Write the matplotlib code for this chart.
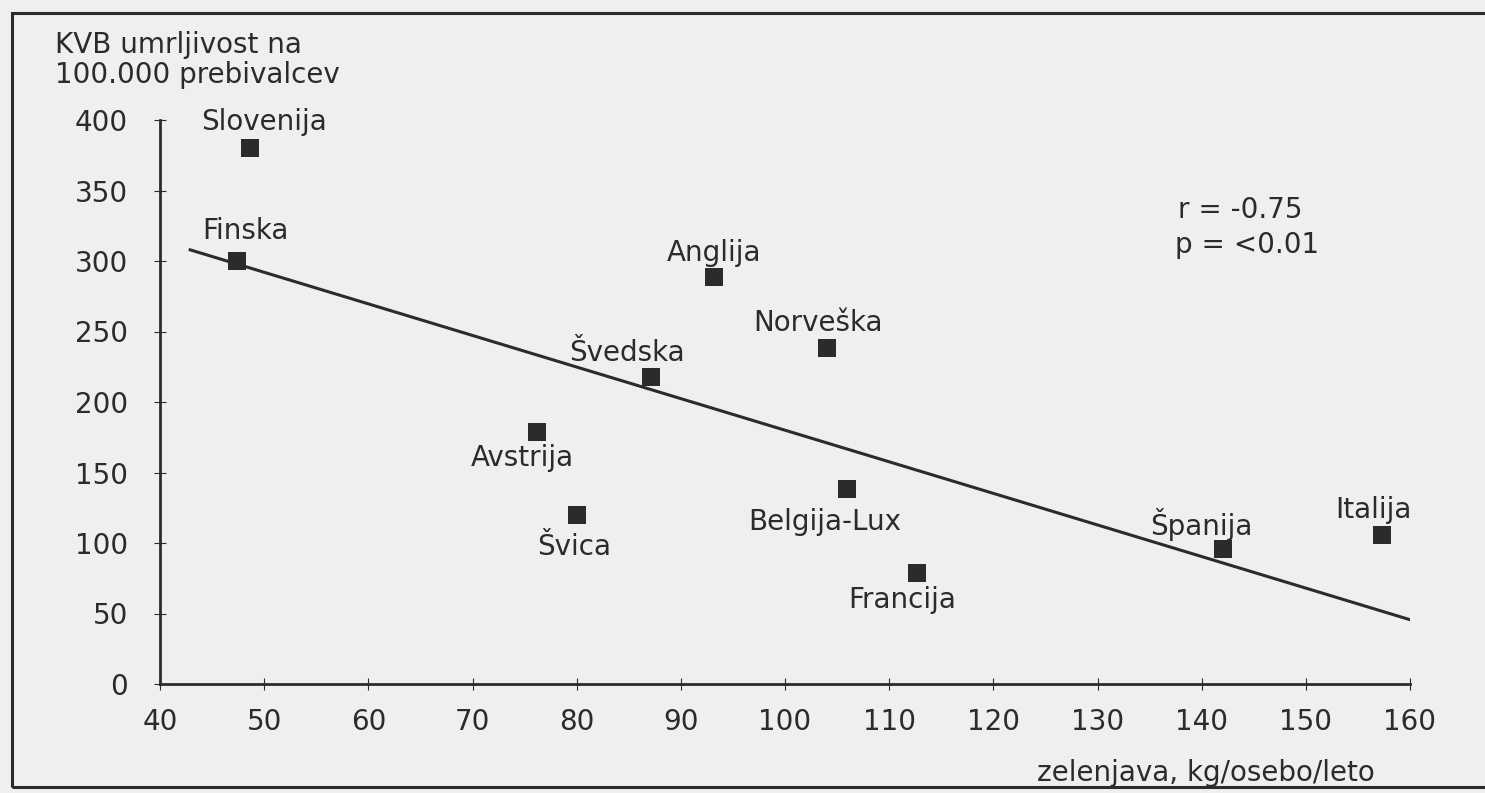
import numpy as np
import matplotlib
matplotlib.use("Agg")
import matplotlib.pyplot as plt
from matplotlib.patches import Rectangle

plt.rcParams['font.family'] = ['DejaVu Sans']

# vegetable consumption vs. cardiovascular mortality per country
countries = ['Slovenija', 'Finska', 'Anglija', 'Norveška', 'Švedska', 'Avstrija',
             'Švica', 'Belgija-Lux', 'Francija', 'Španija', 'Italija']
zelenjava = [48.6, 47.4, 93.2, 104.0, 87.1, 76.2, 80.0, 106.0, 112.7, 142.0, 157.3]
umrljivost = [380, 300, 289, 238, 218, 179, 120, 138, 79, 96, 106]

# regression line as printed (intercept, slope) and its x extent
fit_coef = (404.0, -2.24)
fit_x = [42.9, 160.0]

xticks = list(range(40, 161, 10))
yticks = list(range(0, 401, 50))

# label placement around each marker, in pixels
label_off = [(14, 26), (8, 30), (0, 24), (-9, 25), (-24, 24), (-15, -26),
             (-3, -32), (-23, -33), (-15, -27), (-21, 24), (-8, 25)]

ink = '#2b2b2b'
paper = '#efefed'
fs = 20

fig = plt.figure(figsize=(14.85, 7.93), dpi=100, facecolor=paper)
ax = fig.add_axes([160 / 1485, 1 - 684 / 793, 1250 / 1485, 564 / 793])
ax.set_facecolor(paper)

# outer frame around the whole chart
fig.patches.append(Rectangle((12 / 1485, 1 - 787 / 793), 1.0, 774 / 793,
                             transform=fig.transFigure, fill=False,
                             edgecolor=ink, linewidth=2.2))

ax.set_xlim(40, 160)
ax.set_ylim(0, 400)
for s in ['top', 'right']:
    ax.spines[s].set_visible(False)
for s in ['left', 'bottom']:
    ax.spines[s].set_linewidth(2.0)
    ax.spines[s].set_color(ink)

ax.set_xticks(xticks)
ax.set_yticks(yticks)
ax.tick_params(axis='both', direction='inout', length=8, width=0.8, colors=ink,
               labelsize=fs, labelcolor=ink)
ax.tick_params(axis='x', pad=13)
ax.tick_params(axis='y', pad=19)

xs = np.array(fit_x)
ax.plot(xs, fit_coef[0] + fit_coef[1] * xs, color=ink, lw=2.2, zorder=2)

ax.scatter(zelenjava, umrljivost, marker='s', s=150, color=ink, zorder=3,
           linewidths=0)

for name, x, y, off in zip(countries, zelenjava, umrljivost, label_off):
    ax.annotate(name, (x, y), xytext=off, textcoords='offset pixels',
                ha='center', va='center', fontsize=fs, color=ink)

fig.text(55 / 1485, 1 - 45 / 793, 'KVB umrljivost na', fontsize=fs, color=ink,
         ha='left', va='center')
fig.text(55 / 1485, 1 - 75 / 793, '100.000 prebivalcev', fontsize=fs, color=ink,
         ha='left', va='center')
fig.text(1375 / 1485, 1 - 773 / 793, 'zelenjava, kg/osebo/leto', fontsize=fs,
         color=ink, ha='right', va='center')

fig.text(1178 / 1485, 1 - 210 / 793, 'r = -0.75', fontsize=fs, color=ink,
         ha='left', va='center')
fig.text(1175 / 1485, 1 - 245 / 793, 'p = <0.01', fontsize=fs, color=ink,
         ha='left', va='center')

fig.savefig('out.png', dpi=100, facecolor=paper)
